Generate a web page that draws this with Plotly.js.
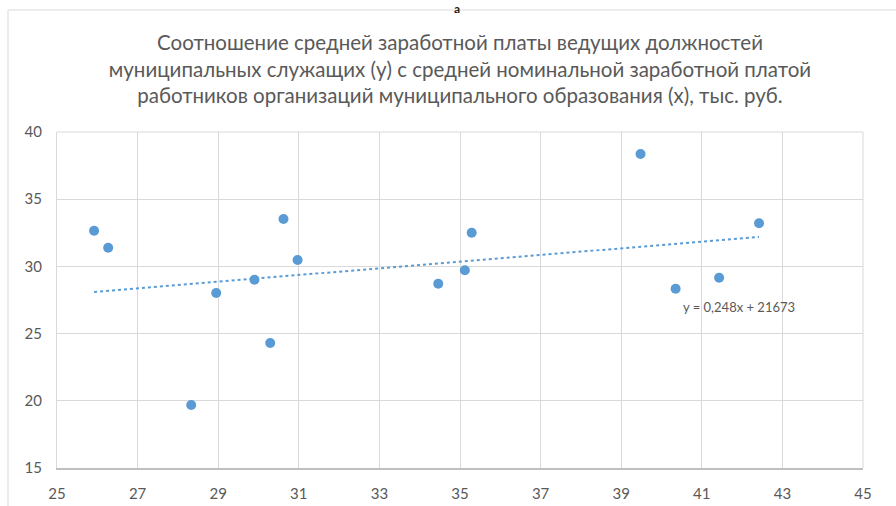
<!DOCTYPE html>
<html>
<head>
<meta charset="utf-8">
<script src="https://cdn.plot.ly/plotly-3.0.1.min.js"></script>
<style>html,body{margin:0;padding:0;background:#fff;}#chart{width:896px;height:506px;}</style>
</head>
<body>
<div id="chart"></div>
<script>
// Средняя номинальная заработная плата работников организаций (x), тыс. руб.
const xValues = [25.92, 26.27, 28.33, 28.95, 29.90, 30.29, 30.62, 30.97, 34.46, 35.12, 35.29, 39.48, 40.35, 41.43, 42.42];
// Средняя заработная плата ведущих должностей муниципальных служащих (y), тыс. руб.
const yValues = [32.65, 31.39, 19.69, 28.02, 29.01, 24.30, 33.53, 30.48, 28.71, 29.71, 32.51, 38.36, 28.34, 29.16, 33.21];
// Линейный тренд
const trendSlope = 0.248;
const trendIntercept = 21.673;
const trendLabel = "y = 0,248x + 21673";
const xTickVals = [25, 27, 29, 31, 33, 35, 37, 39, 41, 43, 45];
const yTickVals = [15, 20, 25, 30, 35, 40];
const titleText = "Соотношение средней заработной платы ведущих должностей<br>муниципальных служащих (y) с средней номинальной заработной платой<br>работников организаций муниципального образования (x), тыс. руб.";

const xMin = Math.min(...xValues), xMax = Math.max(...xValues);
const trendX = [xMin, xMax];
const trendY = trendX.map(v => trendSlope * v + trendIntercept);

const blue = '#5b9bd5';
const grey = '#595959';
const font = 'Lato, "Open Sans", sans-serif';

const traces = [
  {x: trendX, y: trendY, type: 'scatter', mode: 'lines',
   line: {color: blue, width: 2, dash: 'dot'}, hoverinfo: 'skip'},
  {x: xValues, y: yValues, type: 'scatter', mode: 'markers',
   marker: {color: blue, size: 10}}
];

const layout = {
  width: 896, height: 506,
  margin: {l: 57, r: 33, t: 132, b: 38},
  paper_bgcolor: '#ffffff', plot_bgcolor: '#ffffff',
  showlegend: false,
  font: {family: font, color: grey, size: 14},
  title: {text: titleText, font: {family: font, size: 20.5, color: grey},
          x: 0.5, xanchor: 'center', xref: 'paper',
          y: 1 - 50/506, yref: 'container', yanchor: 'middle'},
  xaxis: {range: [25, 45], tickvals: xTickVals, ticktext: xTickVals.map(String),
          showgrid: true, gridcolor: '#d9d9d9', gridwidth: 1,
          showline: true, linecolor: '#bfbfbf', linewidth: 1.5,
          zeroline: false, ticks: '', ticklabelstandoff: 11,
          tickfont: {family: font, size: 15, color: grey}},
  yaxis: {range: [15, 40], tickvals: yTickVals, ticktext: yTickVals.map(String),
          showgrid: true, gridcolor: '#d9d9d9', gridwidth: 1,
          showline: true, linecolor: '#d9d9d9', linewidth: 1,
          zeroline: false, ticks: '', ticklabelstandoff: 11,
          tickfont: {family: font, size: 15, color: grey}},
  annotations: [
    {x: 40.48, y: 27.0, xref: 'x', yref: 'y', text: trendLabel, showarrow: false,
     xanchor: 'left', yanchor: 'middle', font: {family: font, size: 13, color: grey}},
    {x: (457-57)/806, y: (468-0.5)/336, xref: 'paper', yref: 'paper', text: '<b>а</b>',
     showarrow: false, xanchor: 'center', yanchor: 'top', borderpad: 0,
     font: {family: font, size: 12, color: '#222222'}}
  ],
  shapes: [
    {type: 'line', xref: 'paper', yref: 'paper', x0: (8-57)/806, x1: (896-57)/806,
     y0: (468-10)/336, y1: (468-10)/336, line: {color: '#e6e6e6', width: 1.5}},
    {type: 'line', xref: 'paper', yref: 'paper', x0: (8-57)/806, x1: (8-57)/806,
     y0: (468-10)/336, y1: (468-506)/336, line: {color: '#e6e6e6', width: 1.5}},
    {type: 'line', xref: 'paper', yref: 'paper', x0: 1, x1: 1, y0: 0, y1: 1,
     line: {color: '#d9d9d9', width: 1}},
    {type: 'line', xref: 'paper', yref: 'paper', x0: 0, x1: 1, y0: 1, y1: 1,
     line: {color: '#d9d9d9', width: 1}}
  ]
};

Plotly.newPlot('chart', traces, layout, {displayModeBar: false, staticPlot: true});
</script>
</body>
</html>
